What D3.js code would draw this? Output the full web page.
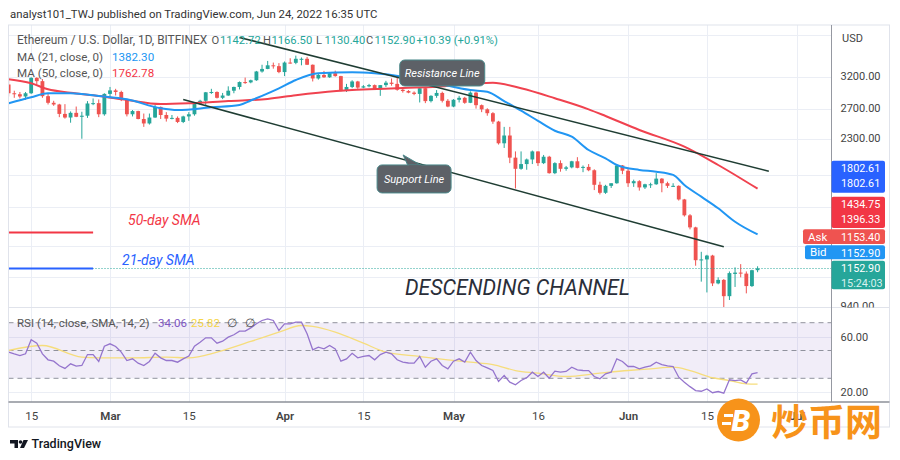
<!DOCTYPE html>
<html><head><meta charset="utf-8">
<script src="https://cdn.jsdelivr.net/npm/d3@7/dist/d3.min.js"></script>
<style>html,body{margin:0;padding:0;background:#fff;}svg{display:block;font-family:Roboto,"Noto Sans",sans-serif;}</style>
</head><body>
<svg id="chart" width="900" height="460"></svg>
<script>
// ---------- DATA ----------
const firstDay = "2022-02-11";
const opens = [3070,2930,2915,2880,2930,3180,3125,2885,2785,2760,2625,2575,2640,2585,2600,2775,2780,2620,
 2920,2975,2950,2835,2620,2665,2555,2495,2575,2725,2610,2560,2570,2515,2590,2620,2770,2815,2945,2950,2860,2895,2970,3030,3110,3105,3140,3290,3335,3400,3385,
 3280,3450,3445,3520,3520,3410,3170,3230,3190,3260,3210,2980,3030,3120,3020,3040,3060,2990,3060,3100,3080,2985,2965,2940,2920,3010,2810,2890,2935,2815,
 2730,2830,2860,2785,2940,2750,2690,2635,2520,2245,2340,2080,1960,2010,2060,2150,2020,2090,1915,2020,1960,1975,2040,1970,1980,1945,1800,1725,1790,1815,1995,
 1940,1815,1835,1775,1805,1805,1860,1815,1790,1790,1665,1530,1435,1205,1210,1235,1065,1085,995,1120,1128,1122,1050,1142.72];
const highs = [3140,2970,2950,2950,3190,3190,3160,2935,2815,2770,2765,2660,2730,2655,2810,2850,2835,2930,
 3030,3000,2970,2845,2680,2670,2630,2630,2755,2730,2650,2610,2590,2600,2650,2790,2830,2950,3000,2960,2935,3040,3035,3120,3185,3150,3300,3410,3480,3450,3440,
 3470,3530,3580,3545,3555,3415,3250,3300,3265,3305,3215,3080,3140,3130,3060,3080,3070,3060,3130,3170,3190,3030,2980,2960,3020,3030,2900,2980,2955,2840,
 2840,2890,2875,2960,2955,2760,2705,2650,2530,2450,2450,2150,2150,2070,2160,2150,2110,2100,2030,2050,1990,2045,2085,1995,2010,1955,1830,1800,1815,2010,2000,
 1970,1850,1845,1810,1820,1915,1865,1830,1815,1795,1670,1540,1440,1260,1240,1240,1100,1090,1135,1160,1180,1135,1145,1166.5];
const lows = [2880,2860,2850,2830,2920,3070,2860,2760,2740,2580,2560,2505,2580,2300,2570,2750,2580,2600,
 2860,2895,2810,2590,2590,2550,2450,2480,2570,2555,2520,2550,2500,2500,2530,2600,2755,2740,2920,2850,2840,2890,2930,2990,3080,3090,3130,3270,3330,3340,3260,
 3210,3430,3420,3400,3405,3120,3150,3180,3180,3200,2960,2950,3010,3000,3010,3025,2990,2890,3030,3050,2970,2940,2930,2900,2790,2780,2790,2860,2790,2720,
 2720,2790,2770,2780,2700,2650,2600,2490,2230,2190,2020,1765,1950,1950,2010,1990,2010,1910,1905,1930,1940,1965,1965,1925,1935,1750,1710,1715,1770,1810,1905,
 1780,1780,1745,1760,1770,1800,1730,1770,1780,1655,1520,1420,1170,1075,1015,1050,1060,880,975,1045,1100,1010,1045,1130.4];
const closes = [2930,2915,2880,2930,3180,3125,2885,2785,2760,2625,2575,2640,2585,2600,2775,2780,2620,2920,
 2975,2950,2835,2620,2665,2555,2495,2575,2725,2610,2560,2570,2515,2590,2620,2770,2815,2945,2950,2860,2895,2970,3030,3110,3105,3140,3290,3335,3400,3385,3280,
 3450,3445,3520,3520,3410,3170,3230,3190,3260,3210,2980,3030,3120,3020,3040,3060,2990,3060,3100,3080,2985,2965,2940,2920,3010,2810,2890,2935,2815,2730,
 2830,2860,2785,2940,2750,2690,2635,2520,2245,2340,2080,1960,2010,2060,2150,2020,2090,1915,2020,1960,1975,2040,1970,1980,1945,1800,1725,1790,1815,1995,1940,
 1815,1835,1775,1805,1805,1860,1815,1790,1790,1665,1530,1435,1205,1210,1235,1065,1085,995,1125,1128,1122,1050,1142.5,1152.9];

const ma21Dates = ["2022-02-11","2022-02-15","2022-02-18","2022-02-22","2022-02-27","2022-03-04","2022-03-10","2022-03-13","2022-03-19","2022-03-24","2022-03-26","2022-03-28","2022-03-31","2022-04-03","2022-04-07","2022-04-13","2022-04-17","2022-04-22","2022-04-28","2022-05-04","2022-05-07","2022-05-10","2022-05-13","2022-05-16","2022-05-19","2022-05-22","2022-05-25","2022-05-28","2022-05-30","2022-06-03","2022-06-06","2022-06-09","2022-06-11","2022-06-14","2022-06-17","2022-06-20","2022-06-24"];
const ma21Values = [2778,2868,2929,2929,2888,2837,2705,2680,2719,2753,2820,2890,3008,3144,3258,3276,3258,3200,3090,2981,2954,2810,2670,2530,2400,2325,2166,2073,2000,1948,1930,1897,1798,1690,1589,1479,1382.3];

const ma50Dates = ["2022-02-11","2022-02-15","2022-02-18","2022-02-22","2022-02-27","2022-03-04","2022-03-10","2022-03-15","2022-03-22","2022-03-29","2022-04-03","2022-04-07","2022-04-13","2022-04-16","2022-04-22","2022-04-28","2022-05-04","2022-05-08","2022-05-13","2022-05-19","2022-05-25","2022-05-28","2022-06-03","2022-06-11","2022-06-17","2022-06-24"];
const ma50Values = [3156,3090,2992,2939,2888,2827,2767,2778,2812,2842,2900,2939,2981,2992,3015,3034,3078,3099,3008,2853,2690,2596,2410,2205,2000,1762.78];

const rsiValues = [48.8,47.5,46.4,47.6,57.7,55.3,47.6,43.3,42.3,39.0,37.1,40.4,38.7,39.2,47.1,47.1,42.1,53.1,
 54.8,52.9,48.8,42.8,44.0,40.9,39.2,42.1,48.1,44.7,42.8,42.8,41.6,44.0,46.0,53.1,56.0,59.1,59.1,55.3,56.7,59.6,61.3,63.9,63.9,66.3,69.2,71.6,72.8,71.6,64.4,
 69.2,69.2,70.4,70.4,62.0,50.5,52.4,51.2,53.6,51.2,42.3,44.0,48.0,44.7,45.7,46.4,43.3,47.1,48.8,47.6,43.3,41.6,41.0,40.9,45.7,38.0,42.3,44.0,39.2,36.8,
 42.3,44.0,41.6,48.8,42.8,39.2,37.5,35.6,27.7,32.0,27.2,25.3,28.4,30.5,34.4,31.3,34.4,30.1,35.1,34.4,34.9,38.0,36.1,35.6,35.5,31.3,29.6,33.2,34.4,44.0,42.1,
 38.5,38.5,36.8,38.0,39.0,41.6,39.9,39.0,38.5,30.8,27.2,24.0,21.2,20.7,22.4,19.6,20.5,19.3,28.9,28.4,28.9,26.5,33.2,34.06];
const rsiMaDates = ["2022-02-11","2022-02-17","2022-02-24","2022-02-27","2022-03-05","2022-03-11","2022-03-15","2022-03-20","2022-03-26","2022-03-31","2022-04-04","2022-04-06","2022-04-10","2022-04-15","2022-04-19","2022-04-25","2022-04-30","2022-05-04","2022-05-08","2022-05-12","2022-05-16","2022-05-21","2022-05-27","2022-06-01","2022-06-05","2022-06-09","2022-06-12","2022-06-16","2022-06-19","2022-06-22","2022-06-24"];
const rsiMaValues = [50.0,53.6,45.2,44.7,44.7,45.2,44.7,48.8,56.5,63.2,68.0,67.3,63.2,55.3,48.8,45.7,43.3,41.6,39.9,35.6,33.7,31.3,33.7,35.6,36.8,38.0,35.6,30.4,28.4,26.0,25.82];

const resistanceDates = ["2022-03-24","2022-06-26"];
const resistancePrices = [3944,1935];
const supportDates = ["2022-03-14","2022-06-18"];
const supportPrices = [2835,1294];
const smaKeyDates = ["2022-02-11","2022-02-26"];
const smaKeyPrices = [1396.33,1152.9];

const xTickDates = ["2022-02-15","2022-03-01","2022-03-15","2022-04-01","2022-04-15","2022-05-01","2022-05-16","2022-06-01","2022-06-15","2022-07-01"];
const xTickLabels = ["15","Mar","15","Apr","15","May","16","Jun","15","Jul"];
const priceGrid = [4000,3200,2700,2300,1900,1600,1300,1100,940];
const priceTickLabels = [3200,2700,2300,940];
const rsiTickLabels = [60,20];
const rsiLevels = [70,50,30];

// ---------- SETUP ----------
const parse = d3.utcParse("%Y-%m-%d");
const dates = opens.map((_, i) => d3.utcDay.offset(parse(firstDay), i));
const svg = d3.select("#chart");
const L = 8.5, R = 831.5, AR = 889.5, T = 25, PB = 307.5, RB = 402, B = 427;
const green = "#26a69a", red = "#ef5350";

const x = d3.scaleUtc().domain([parse("2022-03-01"), parse("2022-07-01")]).range([110, 797]);
const y = d3.scaleLog().domain([3200, 1152.9]).range([76.7, 268.5]);
const yr = d3.scaleLinear().domain([70, 30]).range([322.7, 378.3]);

const defs = svg.append("defs");
defs.append("clipPath").attr("id", "cp").append("rect").attr("x", L).attr("y", T).attr("width", R - L).attr("height", PB - T);
defs.append("clipPath").attr("id", "cr").append("rect").attr("x", L).attr("y", PB).attr("width", R - L).attr("height", RB - PB);
defs.append("clipPath").attr("id", "ca").append("rect").attr("x", R).attr("y", T).attr("width", AR - R).attr("height", PB - T);

// ---------- GRID ----------
const grid = svg.append("g").attr("stroke", "#ebeef5").attr("stroke-width", 1);
xTickDates.forEach(d => {
  const xx = Math.round(x(parse(d))) + 0.5;
  grid.append("line").attr("x1", xx).attr("x2", xx).attr("y1", T).attr("y2", RB);
});
priceGrid.forEach(p => {
  const yy = Math.round(y(p)) + 0.5;
  if (yy > T && yy < PB) grid.append("line").attr("x1", L).attr("x2", R).attr("y1", yy).attr("y2", yy);
});
rsiTickLabels.forEach(v => {
  const yy = Math.round(yr(v)) + 0.5;
  grid.append("line").attr("x1", L).attr("x2", R).attr("y1", yy).attr("y2", yy);
});

// ---------- RSI PANE ----------
const rsiG = svg.append("g").attr("clip-path", "url(#cr)");
rsiG.append("rect").attr("x", L).attr("width", R - L).attr("y", yr(70)).attr("height", yr(30) - yr(70)).attr("fill", "rgba(126,87,194,0.11)");
rsiLevels.forEach(v => {
  rsiG.append("line").attr("x1", L).attr("x2", R).attr("y1", yr(v)).attr("y2", yr(v))
    .attr("stroke", "#787b86").attr("stroke-width", 1).attr("stroke-dasharray", "5 4").attr("opacity", 0.8);
});
rsiG.append("path").datum(rsiMaValues.map((v, i) => [parse(rsiMaDates[i]), v]))
  .attr("fill", "none").attr("stroke", "#f6dd7c").attr("stroke-width", 1.3)
  .attr("d", d3.line().x(d => x(d[0])).y(d => yr(d[1])).curve(d3.curveMonotoneX));
rsiG.append("path").datum(rsiValues.map((v, i) => [dates[i], v]))
  .attr("fill", "none").attr("stroke", "#9575cd").attr("stroke-width", 1.3)
  .attr("d", d3.line().x(d => x(d[0])).y(d => yr(d[1])));

// ---------- PRICE PANE ----------
const pG = svg.append("g").attr("clip-path", "url(#cp)");
const step = x(dates[1]) - x(dates[0]);
const bw = step * 0.68;
const cg = pG.append("g");
dates.forEach((d, i) => {
  const up = closes[i] >= opens[i];
  const col = up ? green : red;
  const cx = x(d);
  cg.append("line").attr("x1", cx).attr("x2", cx).attr("y1", y(highs[i])).attr("y2", y(lows[i]))
    .attr("stroke", col).attr("stroke-width", 1);
  const y0 = y(Math.max(opens[i], closes[i])), y1 = y(Math.min(opens[i], closes[i]));
  cg.append("rect").attr("x", cx - bw / 2).attr("width", bw).attr("y", y0).attr("height", Math.max(1, y1 - y0)).attr("fill", col);
});
// last price dotted
pG.append("line").attr("x1", L).attr("x2", R).attr("y1", y(closes[closes.length - 1])).attr("y2", y(closes[closes.length - 1]))
  .attr("stroke", green).attr("stroke-width", 1).attr("stroke-dasharray", "1 2");
// moving averages
const lineMA = d3.line().x(d => x(d[0])).y(d => y(d[1])).curve(d3.curveMonotoneX);
pG.append("path").datum(ma50Values.map((v, i) => [parse(ma50Dates[i]), v]))
  .attr("fill", "none").attr("stroke", "#f0424f").attr("stroke-width", 2).attr("d", lineMA);
pG.append("path").datum(ma21Values.map((v, i) => [parse(ma21Dates[i]), v]))
  .attr("fill", "none").attr("stroke", "#2196f3").attr("stroke-width", 2).attr("d", lineMA);
// trend lines
const tl = (ds, ps) => pG.append("line").attr("x1", x(parse(ds[0]))).attr("y1", y(ps[0])).attr("x2", x(parse(ds[1]))).attr("y2", y(ps[1]))
  .attr("stroke", "#1f3d33").attr("stroke-width", 1.6);
tl(resistanceDates, resistancePrices);
tl(supportDates, supportPrices);
// SMA key lines
pG.append("line").attr("x1", x(parse(smaKeyDates[0]))).attr("x2", x(parse(smaKeyDates[1]))).attr("y1", y(smaKeyPrices[0])).attr("y2", y(smaKeyPrices[0]))
  .attr("stroke", "#f23645").attr("stroke-width", 2);
pG.append("line").attr("x1", x(parse(smaKeyDates[0]))).attr("x2", x(parse(smaKeyDates[1]))).attr("y1", y(smaKeyPrices[1])).attr("y2", y(smaKeyPrices[1]))
  .attr("stroke", "#2962ff").attr("stroke-width", 2);
pG.append("text").attr("x", 128).attr("y", 225).text("50-day SMA").attr("fill", "#f23645").attr("font-size", 14).attr("font-style", "italic");
pG.append("text").attr("x", 122).attr("y", 265).text("21-day SMA").attr("fill", "#2962ff").attr("font-size", 14).attr("font-style", "italic");

// callouts
function callout(cx, cy, w, h, label, tail) {
  const g = pG.append("g");
  if (tail) {
    g.append("path").attr("d", `M${cx + tail[0]},${cy + tail[1]} L${cx - 6},${cy - h / 2 + 1} L${cx + 8},${cy - h / 2 + 1} Z`)
      .attr("fill", "#5d6167").attr("stroke", "#4c8a8c").attr("stroke-width", 1);
  }
  g.append("rect").attr("x", cx - w / 2).attr("y", cy - h / 2).attr("width", w).attr("height", h).attr("rx", 5)
    .attr("fill", "#5d6167").attr("stroke", "#4c8a8c").attr("stroke-width", 1);
  if (tail) g.append("path").attr("d", `M${cx - 5},${cy - h / 2 + 1.2} L${cx + 7},${cy - h / 2 + 1.2}`).attr("stroke", "#5d6167").attr("stroke-width", 2);
  g.append("text").attr("x", cx).attr("y", cy + 4).attr("text-anchor", "middle").attr("fill", "#fff")
    .attr("font-size", 11).attr("font-style", "italic").text(label);
}
callout(x(parse("2022-04-29")), y(3264), 85, 26, "Resistance Line", null);
callout(x(parse("2022-04-24")), y(1857), 74, 28, "Support Line", [-11, -24]);

pG.append("text").attr("x", 405).attr("y", 295).text("DESCENDING CHANNEL").attr("fill", "#2a2e39")
  .attr("font-size", 22).attr("font-style", "italic").attr("textLength", 225).attr("lengthAdjust", "spacingAndGlyphs");

// ---------- FRAME & AXES ----------
const fr = svg.append("g").attr("fill", "none");
fr.append("rect").attr("x", L).attr("y", T).attr("width", AR - L).attr("height", B - T).attr("stroke", "#e0e3eb");
fr.append("line").attr("x1", L).attr("x2", AR).attr("y1", PB).attr("y2", PB).attr("stroke", "#e0e3eb");
fr.append("line").attr("x1", R).attr("x2", R).attr("y1", T).attr("y2", RB).attr("stroke", "#9598a1");
fr.append("line").attr("x1", L).attr("x2", AR).attr("y1", RB).attr("y2", RB).attr("stroke", "#8d9099").attr("stroke-width", 1.6);

const xAxis = d3.axisBottom(x).tickValues(xTickDates.map(parse)).tickSize(0).tickPadding(0)
  .tickFormat((d, i) => xTickLabels[i]);
const xa = svg.append("g").attr("transform", `translate(0,${RB + 18})`).call(xAxis);
xa.select(".domain").remove();
xa.selectAll("text").attr("font-size", 11.5).attr("fill", "#444").attr("font-family", "Roboto, sans-serif")
  .attr("font-weight", (d, i) => isNaN(+xTickLabels[i]) ? 600 : 400).attr("dy", 0);

const yAxis = d3.axisRight(y).tickValues(priceTickLabels).tickSize(0).tickPadding(9).tickFormat(d3.format(".2f"));
const yaWrap = svg.append("g").attr("clip-path", "url(#ca)");
const ya = yaWrap.append("g").attr("transform", `translate(${R},0)`).call(yAxis);
ya.select(".domain").remove();
ya.selectAll("text").attr("font-size", 11).attr("fill", "#444").attr("font-family", "Roboto, sans-serif").attr("dy", "0.22em");
svg.append("text").attr("x", 842).attr("y", 42).text("USD").attr("font-size", 11).attr("fill", "#444");

const rAxis = d3.axisRight(yr).tickValues(rsiTickLabels).tickSize(0).tickPadding(9).tickFormat(d3.format(".2f"));
const ra = svg.append("g").attr("transform", `translate(${R},0)`).call(rAxis);
ra.select(".domain").remove();
ra.selectAll("text").attr("font-size", 11).attr("fill", "#444").attr("font-family", "Roboto, sans-serif");

// price labels on axis
const lastY = y(closes[closes.length - 1]);
const axisBoxes = [
  {off: -7.8, h: 28.6, fill: "#26a69a", lines: ["1152.90", "15:24:03"], x0: R},
  {off: -23.2, h: 14, fill: "#2196f3", lines: ["1152.90"], tag: "Bid", x0: 805},
  {off: -39.2, h: 14.7, fill: "#ef5350", lines: ["1153.40"], tag: "Ask", x0: 803},
  {off: -71.8, h: 31.3, fill: "#f23645", lines: ["1434.75", "1396.33"], x0: R},
  {off: -107.8, h: 32, fill: "#2962ff", lines: ["1802.61", "1802.61"], x0: R}
];
axisBoxes.forEach(b => {
  const top = lastY + b.off;
  svg.append("rect").attr("x", b.x0).attr("y", top).attr("width", 885 - b.x0).attr("height", b.h).attr("rx", 2).attr("fill", b.fill);
  b.lines.forEach((t, k) => svg.append("text").attr("x", 841).attr("y", top + 7.6 + k * 14.6).attr("dy", "0.35em")
    .text(t).attr("fill", k === 1 && b.fill === "#26a69a" ? "#d8f1ee" : "#fff").attr("font-size", 10.8));
  if (b.tag) svg.append("text").attr("x", b.x0 + 5).attr("y", top + b.h / 2).attr("dy", "0.35em").text(b.tag).attr("fill", "#fff").attr("font-size", 11.5);
});

// ---------- LEGENDS ----------
svg.append("text").attr("x", 10).attr("y", 18).text("analyst101_TWJ published on TradingView.com, Jun 24, 2022 16:35 UTC")
  .attr("font-size", 11.4).attr("fill", "#333");
const lg = svg.append("text").attr("x", 17).attr("y", 44).attr("font-size", 11.2).attr("fill", "#555");
lg.append("tspan").text("Ethereum / U.S. Dollar, 1D, BITFINEX").attr("font-size", 11.9);
[["O", "1142.72", 211.5], ["H", "1166.50", 263], ["L", "1130.40", 316], ["C", "1152.90", 366]].forEach(p => {
  lg.append("tspan").attr("x", p[2]).text(p[0]);
  lg.append("tspan").attr("x", p[2] + 8.5).text(p[1]).attr("fill", green);
});
lg.append("tspan").attr("x", 416.5).text("+10.39 (+0.91%)").attr("fill", green);
const m1 = svg.append("text").attr("x", 17).attr("y", 60.5).attr("font-size", 11.6).attr("fill", "#555");
m1.append("tspan").text("MA (21, close, 0)");
m1.append("tspan").attr("x", 112).text("1382.30").attr("fill", "#2196f3");
const m2 = svg.append("text").attr("x", 17).attr("y", 77).attr("font-size", 11.6).attr("fill", "#555");
m2.append("tspan").text("MA (50, close, 0)");
m2.append("tspan").attr("x", 112).text("1762.78").attr("fill", "#f23645");
const rl = svg.append("text").attr("x", 17).attr("y", 327).attr("font-size", 11.5).attr("fill", "#555");
rl.append("tspan").text("RSI (14, close, SMA, 14, 2)");
rl.append("tspan").attr("x", 158).text("34.06").attr("fill", "#7e57c2");
rl.append("tspan").attr("x", 191).text("25.82").attr("fill", "#f5d547");
rl.append("tspan").attr("x", 227).text("∅");
rl.append("tspan").attr("x", 245).text("∅");

// ---------- FOOTER ----------
const logo = svg.append("g").attr("fill", "#131722");
logo.append("path").attr("d", "M10,440 h8 v8 h-3.5 v-4.6 h-4.5 z");
logo.append("circle").attr("cx", 20.5).attr("cy", 442).attr("r", 1.8);
logo.append("path").attr("d", "M23.5,440 h4.5 l-4,8 h-4 z");
svg.append("text").attr("x", 31.5).attr("y", 448).text("TradingView").attr("font-size", 12.5).attr("font-weight", 500).attr("fill", "#131722");

// watermark
const wm = svg.append("g");
wm.append("circle").attr("cx", 738.5).attr("cy", 420).attr("r", 21.5).attr("fill", "#f7931a");
wm.append("rect").attr("x", 724).attr("y", 414).attr("width", 9).attr("height", 3).attr("fill", "#fff");
wm.append("rect").attr("x", 722).attr("y", 422).attr("width", 9).attr("height", 3).attr("fill", "#fff");
wm.append("text").attr("x", 741).attr("y", 431).attr("text-anchor", "middle").text("B").attr("fill", "#fff")
  .attr("font-size", 30).attr("font-weight", 900).attr("font-style", "italic");
wm.append("text").attr("x", 771).attr("y", 436).text("炒币网").attr("fill", "#f7931a")
  .attr("font-size", 37).attr("font-weight", 700).attr("font-family", "'Noto Sans CJK SC', sans-serif");
</script>
</body></html>
